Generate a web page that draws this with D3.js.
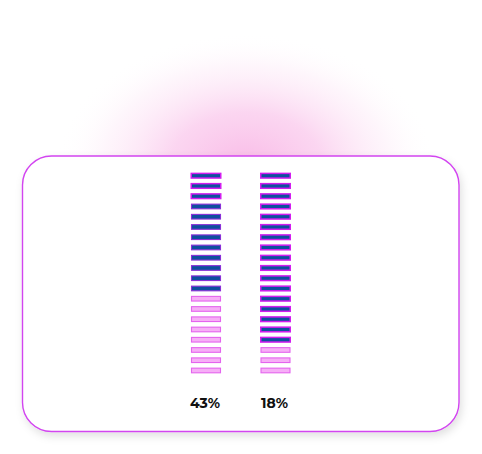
<!DOCTYPE html>
<html>
<head>
<meta charset="utf-8">
<script src="https://cdn.jsdelivr.net/npm/d3@7"></script>
<style>
  html, body { margin: 0; padding: 0; background: #fff; }
  svg { display: block; }
</style>
</head>
<body>
<svg id="chart" width="482" height="454"></svg>
<script>
// Data
const categories = ["Group A", "Group B"];
const percentLabels = ["43%", "18%"];
const filledSegments = [12, 17];
const highlightedSegments = [3, 17];
const totalSegments = 20;

const svg = d3.select("#chart");
const defs = svg.append("defs");

const glow = defs.append("radialGradient").attr("id", "glow")
  .attr("cx", "50%").attr("cy", "50%").attr("r", "50%");
glow.append("stop").attr("offset", "0%").attr("stop-color", "#f9b8e6").attr("stop-opacity", 0.95);
glow.append("stop").attr("offset", "40%").attr("stop-color", "#fac8ec").attr("stop-opacity", 0.75);
glow.append("stop").attr("offset", "75%").attr("stop-color", "#fce4f5").attr("stop-opacity", 0.35);
glow.append("stop").attr("offset", "100%").attr("stop-color", "#ffffff").attr("stop-opacity", 0);

const shadow = defs.append("filter").attr("id", "shadow")
  .attr("x", "-10%").attr("y", "-10%").attr("width", "120%").attr("height", "125%");
shadow.append("feDropShadow").attr("dx", 2).attr("dy", 4).attr("stdDeviation", 4)
  .attr("flood-color", "#000").attr("flood-opacity", 0.12);

// glow behind the card
svg.append("ellipse")
  .attr("cx", 246).attr("cy", 165).attr("rx", 190).attr("ry", 132)
  .attr("fill", "url(#glow)");

// card
svg.append("rect")
  .attr("x", 22.5).attr("y", 156).attr("width", 436.5).attr("height", 275.5)
  .attr("rx", 29).attr("ry", 29)
  .attr("fill", "#fff")
  .attr("stroke", "#d244f0").attr("stroke-width", 1.4)
  .attr("filter", "url(#shadow)");

const x = d3.scalePoint().domain(categories).range([206, 275.5]);
const barW = 31;
const y = d3.scaleBand().domain(d3.range(totalSegments)).range([172.7, 373.5]).paddingInner(0.41).paddingOuter(0);

const cols = svg.selectAll("g.col").data(categories).join("g").attr("class", "col");

cols.each(function(cat, ci) {
  const g = d3.select(this);
  const segs = d3.range(totalSegments).map(i => ({
    i, filled: i < filledSegments[ci], hi: i < highlightedSegments[ci]
  }));
  g.selectAll("rect").data(segs).join("rect")
    .attr("x", d => x(cat) - barW / 2 + (d.hi ? 0.75 : 1))
    .attr("y", d => y(d.i) + 0.7)
    .attr("width", d => barW - (d.hi ? 1.5 : 2))
    .attr("height", y.bandwidth() - 1.4)
    .attr("fill", d => d.filled ? "#0e4f9e" : "#f6aef6")
    .attr("stroke", d => d.filled ? (d.hi ? "#d21df0" : "#8a30d8") : "#e464ee")
    .attr("stroke-width", d => d.filled && d.hi ? 1.5 : 1.1);
});

svg.selectAll("text.pct").data(categories).join("text")
  .attr("class", "pct")
  .attr("x", d => x(d) - 1)
  .attr("y", 408)
  .attr("text-anchor", "middle")
  .attr("font-family", "Montserrat, 'Open Sans', sans-serif")
  .attr("font-weight", 700)
  .attr("font-size", 14)
  .attr("fill", "#111")
  .text((d, i) => percentLabels[i]);
</script>
</body>
</html>
